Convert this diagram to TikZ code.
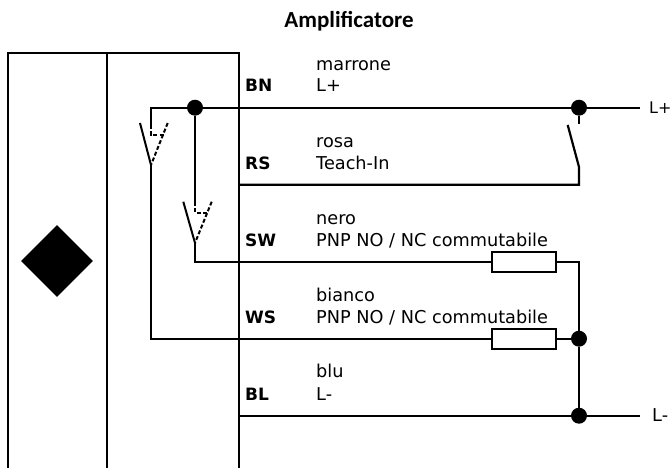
\documentclass[tikz,border=0pt]{standalone}
\usepackage{fontspec}
\setmainfont{DejaVu Sans}
\newfontfamily\titlefont{Carlito}
\usetikzlibrary{shapes.geometric}
\begin{document}
\begin{tikzpicture}[mydrawstyle/.style={draw=black, line width=2.2pt},
    mydashstyle/.style={draw=black, line width=2pt, dash pattern=on 4pt off 2.2pt},
    myblade/.style={draw=black, line width=2pt},
    mydot/.style={circle, fill=black, inner sep=0pt, minimum size=16pt},
    myload/.style={draw=black, line width=2.2pt, fill=white, minimum width=64.5pt, minimum height=20pt, inner sep=0pt},
    mypin/.style={anchor=base west, inner sep=0pt, font=\bfseries\fontsize{17}{20}\selectfont},
    mytext/.style={anchor=base west, inner sep=0pt, font=\fontsize{17.7}{20}\selectfont},
    x=1pt, y=-1pt]
    \useasboundingbox (0,0) rectangle (672,468);
    \node[anchor=base, inner sep=0pt, font=\titlefont\bfseries\fontsize{23}{26}\selectfont] (title) at (349,28) {Amplificatore};
    % housing
    \coordinate (boxbl) at (8,468);
    \coordinate (boxtl) at (8,53);
    \coordinate (boxtr) at (239,53);
    \coordinate (boxbr) at (239,468);
    \coordinate (divtop) at (107,53);
    \coordinate (divbot) at (107,468);
    \draw[mydrawstyle](boxbl)--(boxtl)--(boxtr)--(boxbr);
    \draw[mydrawstyle](divtop)--(divbot);
    \node[diamond, fill=black, inner sep=0pt, minimum width=72pt, minimum height=72pt] (sensor) at (57,261) {};
    % junctions
    \node[mydot] (dottop) at (195,107.7) {};
    \node[mydot] (dotplus) at (579,107.7) {};
    \node[mydot] (dotws) at (579,338.7) {};
    \node[mydot] (dotminus) at (579,415.7) {};
    % loads
    \node[myload] (loadsw) at (524,261.7) {};
    \node[myload] (loadws) at (524,338.7) {};
    % free ends
    \coordinate (endplus) at (640,107.7);
    \coordinate (endminus) at (640,415.7);
    \coordinate (pinrs) at (239,184.7);
    \coordinate (pinsw) at (239,261.7);
    \coordinate (pinbl) at (239,415.7);
    \coordinate (pinbn) at (239,107.7);
    % supply lines
    \draw[mydrawstyle](pinbn)--(dottop)--(dotplus)--(endplus);
    \draw[mydrawstyle](pinbl)--(dotminus)--(endminus);
    \draw[mydrawstyle](loadsw.east)-|(dotws)--(dotminus);
    \draw[mydrawstyle](loadws.east)--(dotws);
    % teach-in switch
    \coordinate (rsstub) at (579,124.5);
    \coordinate (rspivot) at (579,167);
    \coordinate (rsblade) at (567.7,125);
    \draw[mydrawstyle](dotplus)--(rsstub);
    \draw[mydrawstyle](pinrs)-|(rspivot)--(rsblade);
    % switch on WS
    \coordinate (wsa) at (151,125);
    \coordinate (wsb) at (151,135);
    \coordinate (wsc) at (151,165);
    \coordinate (wsd) at (140,123);
    \coordinate (wse) at (167.7,123);
    \coordinate (wsf) at (165,135);
    \draw[mydrawstyle](dottop)-|(wsa);
    \draw[mydashstyle](wsa)--(wsb)--(wsf);
    \draw[myblade](wsd)--(wsc);
    \draw[mydashstyle](wse)--(wsc);
    \draw[mydrawstyle](wsc)|-(loadws.west);
    % switch on SW
    \coordinate (swa) at (195,202);
    \coordinate (swb) at (195,212.5);
    \coordinate (swc) at (195,243);
    \coordinate (swd) at (183.3,201.7);
    \coordinate (swe) at (211.7,201.7);
    \coordinate (swf) at (208,212.5);
    \draw[mydrawstyle](dottop)--(swa);
    \draw[mydashstyle](swa)--(swb)--(swf);
    \draw[myblade](swd)--(swc);
    \draw[mydashstyle](swe)--(swc);
    \draw[mydrawstyle](swc)|-(loadsw.west);
    % labels
    \node[mypin] (bn) at (245,92) {BN};
    \node[mypin] (rs) at (245,170) {RS};
    \node[mypin] (sw) at (245,246) {SW};
    \node[mypin] (ws) at (245,323) {WS};
    \node[mypin] (bl) at (245,400) {BL};
    \node[mytext] (bncolor) at (316,70.5) {marrone};
    \node[mytext] (bnname) at (316,92) {L+};
    \node[mytext] (rscolor) at (316,147.5) {rosa};
    \node[mytext] (rsname) at (316,170) {Teach-In};
    \node[mytext] (swcolor) at (316,224.5) {nero};
    \node[mytext] (swname) at (316,246) {PNP NO / NC commutabile};
    \node[mytext] (wscolor) at (316,301.5) {bianco};
    \node[mytext] (wsname) at (316,323) {PNP NO / NC commutabile};
    \node[mytext] (blcolor) at (316,377.5) {blu};
    \node[mytext] (blname) at (316,400) {L-};
    \node[mytext, font=\fontsize{16}{20}\selectfont] (plus) at (649,113.5) {L+};
    \node[mytext] (minus) at (652,421.5) {L-};
\end{tikzpicture}
\end{document}
